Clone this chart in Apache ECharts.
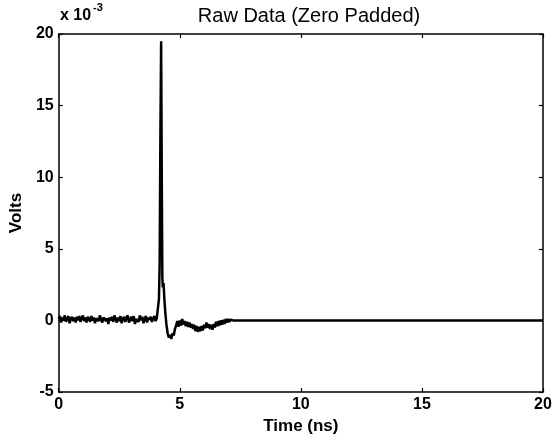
<!DOCTYPE html>
<html><head><meta charset="utf-8">
<script src="https://cdn.jsdelivr.net/npm/echarts@6/dist/echarts.min.js"></script>
<style>html,body{margin:0;padding:0;background:#fff}#c{width:556px;height:444px}</style>
</head><body><div id="c"></div>
<script>
// Time in ns, voltage in units of 1e-3 V
const timeNs = [
 0,0.05,0.1,0.15,0.2,0.25,0.3,0.35,0.4,0.45,
 0.5,0.55,0.6,0.65,0.7,0.75,0.8,0.85,0.9,0.95,
 1.0,1.05,1.1,1.15,1.2,1.25,1.3,1.35,1.4,1.45,
 1.5,1.55,1.6,1.65,1.7,1.75,1.8,1.85,1.9,1.95,
 2.0,2.05,2.1,2.15,2.2,2.25,2.3,2.35,2.4,2.45,
 2.5,2.55,2.6,2.65,2.7,2.75,2.8,2.85,2.9,2.95,
 3.0,3.05,3.1,3.15,3.2,3.25,3.3,3.35,3.4,3.45,
 3.5,3.55,3.6,3.65,3.7,3.75,3.8,3.85,3.9,3.95,
 4.0,4.05,4.1,
 4.14,4.17,4.2,4.23,4.26,4.28,4.3,4.33,4.36,4.4,
 4.45,4.5,4.55,4.6,4.65,4.7,4.75,4.8,
 4.85,4.9,4.95,5.0,5.05,5.1,5.15,5.2,5.25,5.3,
 5.35,5.4,5.45,5.5,5.55,5.6,5.65,5.7,5.75,5.8,
 5.85,5.9,5.95,6.0,6.05,6.1,6.15,6.2,6.25,6.3,
 6.35,6.4,6.45,6.5,6.55,6.6,6.65,6.7,6.75,6.8,
 6.85,6.9,6.95,7.0,7.05,7.1,7.15,7.2,
 20
];
const voltsE3 = [
 0.1,0.3,-0.15,0.2,0.0,0.35,-0.1,0.15,0.3,-0.2,
 0.1,0.25,-0.05,0.2,-0.15,0.25,0.0,0.3,-0.1,0.15,
 0.35,-0.05,0.2,-0.15,0.25,0.1,-0.1,0.3,0.0,0.2,
 -0.2,0.15,0.25,-0.05,0.35,0.05,-0.15,0.2,0.3,-0.05,
 0.15,-0.25,0.2,0.0,0.25,-0.1,0.35,0.1,-0.15,0.2,
 -0.05,0.3,-0.2,0.1,0.25,-0.1,0.2,0.35,-0.15,0.05,
 0.25,-0.05,0.3,-0.25,0.1,0.2,-0.1,0.35,0.0,0.25,
 -0.2,0.1,0.3,-0.15,0.2,0.05,0.25,-0.1,0.15,0.3,
 -0.05,0.15,0.1,
 1.5,4.0,13.0,19.5,9.0,3.0,2.3,2.6,1.6,0.6,
 -0.3,-0.9,-1.2,-1.0,-1.3,-0.9,-1.05,-0.6,
 -0.35,-0.05,-0.45,0.0,-0.35,0.1,-0.3,-0.05,-0.4,-0.1,
 -0.45,-0.15,-0.5,-0.25,-0.6,-0.3,-0.75,-0.4,-0.8,-0.45,
 -0.75,-0.4,-0.7,-0.3,-0.55,-0.15,-0.5,-0.25,-0.6,-0.3,
 -0.65,-0.25,-0.5,-0.1,-0.4,-0.05,-0.35,0.0,-0.3,0.05,
 -0.25,0.1,-0.15,0.1,-0.1,0.05,-0.05,0.0,
 0.0
];
const xTicks = [0, 5, 10, 15, 20];
const yTicks = [-5, 0, 5, 10, 15, 20];
const titleText = 'Raw Data (Zero Padded)';
const xLabel = 'Time (ns)';
const yLabel = 'Volts';
const scaleBase = 'x 10';
const scaleExp = '-3';

const data = timeNs.map((t, i) => [t, voltsE3[i]]);
const font = 'Liberation Sans, Arial, Helvetica, sans-serif';
const axisCommon = {
  axisLine: {show: true, onZero: false, lineStyle: {color: '#000', width: 1.5}},
  axisTick: {show: true, inside: true, length: 4, lineStyle: {color: '#000', width: 1.2}},
  splitLine: {show: false}
};
const chart = echarts.init(document.getElementById('c'), null, {renderer: 'canvas'});
chart.setOption({
  backgroundColor: '#fff',
  animation: false,
  title: {text: titleText, left: 304, top: 1, textAlign: 'center',
    textStyle: {fontFamily: font, fontSize: 20, fontWeight: 'normal', color: '#000'}},
  grid: {left: 57, right: 13, top: 34, bottom: 52},
  graphic: [
    {type: 'text', left: 60, top: 8,
      style: {text: scaleBase, fontFamily: font, fontSize: 16, fontWeight: 'bold', fill: '#000'}},
    {type: 'text', left: 93, top: 2,
      style: {text: scaleExp, fontFamily: font, fontSize: 11, fontWeight: 'bold', fill: '#000'}}
  ],
  xAxis: [
    Object.assign({type: 'value', min: xTicks[0], max: xTicks[xTicks.length-1], interval: 5,
      position: 'bottom', name: xLabel, nameLocation: 'middle', nameGap: 24,
      nameTextStyle: {fontFamily: font, fontSize: 17, fontWeight: 'bold', color: '#000'},
      axisLabel: {fontFamily: font, fontSize: 16, fontWeight: 'bold', color: '#000', margin: 5}}, axisCommon),
    Object.assign({type: 'value', min: xTicks[0], max: xTicks[xTicks.length-1], interval: 5,
      position: 'top', axisLabel: {show: false}}, axisCommon)
  ],
  yAxis: [
    Object.assign({type: 'value', min: yTicks[0], max: yTicks[yTicks.length-1], interval: 5,
      position: 'left', name: yLabel, nameLocation: 'middle', nameGap: 28,
      nameTextStyle: {fontFamily: font, fontSize: 17, fontWeight: 'bold', color: '#000'},
      axisLabel: {fontFamily: font, fontSize: 16, fontWeight: 'bold', color: '#000', margin: 5}}, axisCommon),
    Object.assign({type: 'value', min: yTicks[0], max: yTicks[yTicks.length-1], interval: 5,
      position: 'right', axisLabel: {show: false}}, axisCommon)
  ],
  series: [{type: 'line', data: data, showSymbol: false, symbol: 'none',
    lineStyle: {color: '#000', width: 2.5}, xAxisIndex: 0, yAxisIndex: 0}]
});
</script></body></html>
